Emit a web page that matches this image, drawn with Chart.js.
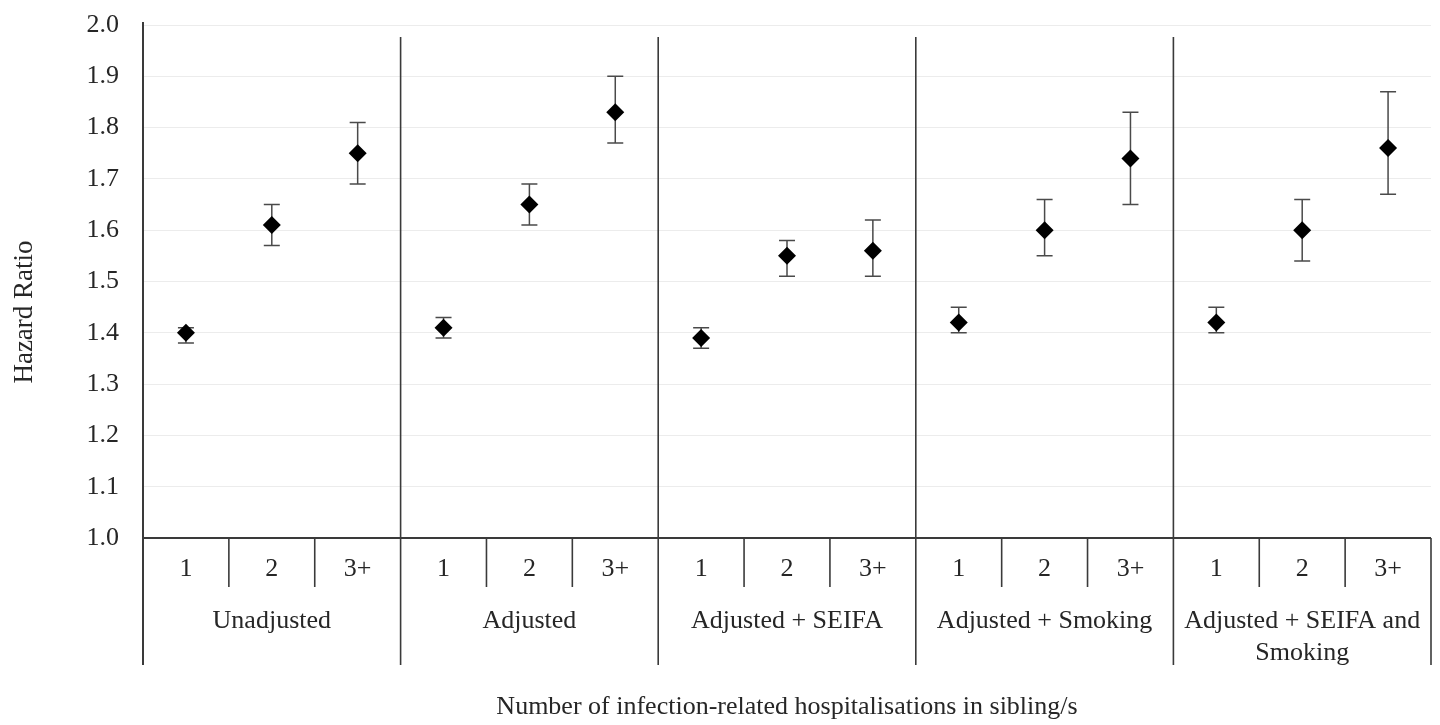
<!DOCTYPE html>
<html>
<head>
<meta charset="utf-8">
<script src="https://cdn.jsdelivr.net/npm/chart.js@4.4.1/dist/chart.umd.min.js"></script>
<style>
  body { margin: 0; background: #fff; }
  #wrap { width: 1440px; height: 725px; }
</style>
</head>
<body>
<div id="wrap"><canvas id="myChart"></canvas></div>
<script>
'use strict';
let groupNames = ['Unadjusted', 'Adjusted', 'Adjusted + SEIFA', 'Adjusted + Smoking', ['Adjusted + SEIFA and', 'Smoking']];
let subLabels = ['1', '2', '3+'];
let hazardRatio = [1.40, 1.61, 1.75, 1.41, 1.65, 1.83, 1.39, 1.55, 1.56, 1.42, 1.60, 1.74, 1.42, 1.60, 1.76];
let lowerCI = [1.38, 1.57, 1.69, 1.39, 1.61, 1.77, 1.37, 1.51, 1.51, 1.40, 1.55, 1.65, 1.40, 1.54, 1.67];
let upperCI = [1.41, 1.65, 1.81, 1.43, 1.69, 1.90, 1.41, 1.58, 1.62, 1.45, 1.66, 1.83, 1.45, 1.66, 1.87];
let yTicks = [1.0, 1.1, 1.2, 1.3, 1.4, 1.5, 1.6, 1.7, 1.8, 1.9, 2.0];

let labels = [];
for (let g = 0; g < groupNames.length; g++) {
  for (let s = 0; s < subLabels.length; s++) {
    labels.push(subLabels[s]);
  }
}

const fontFamily = '"Liberation Serif", "Times New Roman", serif';
const textColor = '#262626';

// error bars and the table-like category axis
const extras = {
  id: 'extras',
  beforeDatasetsDraw(chart) {
    const ctx = chart.ctx;
    const x = chart.scales.x;
    const y = chart.scales.y;
    ctx.save();
    ctx.strokeStyle = '#4a4a4a';
    ctx.lineWidth = 1.5;
    for (let i = 0; i < hazardRatio.length; i++) {
      const px = x.getPixelForValue(i);
      const top = y.getPixelForValue(upperCI[i]);
      const bot = y.getPixelForValue(lowerCI[i]);
      ctx.beginPath();
      ctx.moveTo(px, top); ctx.lineTo(px, bot);
      ctx.moveTo(px - 8, top); ctx.lineTo(px + 8, top);
      ctx.moveTo(px - 8, bot); ctx.lineTo(px + 8, bot);
      ctx.stroke();
    }
    ctx.restore();
  },
  afterDraw(chart) {
    const ctx = chart.ctx;
    const x = chart.scales.x;
    const y = chart.scales.y;
    const area = chart.chartArea;
    const base = y.getPixelForValue(1.0);
    const lineEnd = 665;
    const n = subLabels.length;
    ctx.save();
    ctx.strokeStyle = '#3a3a3a';
    ctx.lineWidth = 2;

    // left axis
    ctx.beginPath();
    ctx.moveTo(area.left, 22); ctx.lineTo(area.left, lineEnd);
    // base line
    ctx.moveTo(area.left, base); ctx.lineTo(area.right, base);
    ctx.stroke();

    ctx.lineWidth = 1.6;
    for (let i = 1; i < labels.length; i++) {
      const bx = (x.getPixelForValue(i - 1) + x.getPixelForValue(i)) / 2;
      ctx.beginPath();
      if (i % n === 0) {
        ctx.moveTo(bx, area.top + 12); ctx.lineTo(bx, lineEnd);
      } else {
        ctx.moveTo(bx, base); ctx.lineTo(bx, 587);
      }
      ctx.stroke();
    }
    ctx.beginPath();
    ctx.moveTo(area.right, base); ctx.lineTo(area.right, lineEnd);
    ctx.stroke();

    // group names
    ctx.fillStyle = textColor;
    ctx.font = '26px ' + fontFamily;
    ctx.textAlign = 'center';
    ctx.textBaseline = 'middle';
    for (let g = 0; g < groupNames.length; g++) {
      const cx = x.getPixelForValue(g * n + 1);
      const lines = Array.isArray(groupNames[g]) ? groupNames[g] : [groupNames[g]];
      for (let k = 0; k < lines.length; k++) {
        ctx.fillText(lines[k], cx, 621 + k * 32);
      }
    }

    // y axis title
    ctx.font = '27px ' + fontFamily;
    ctx.translate(25, 312);
    ctx.rotate(-Math.PI / 2);
    ctx.fillText('Hazard Ratio', 0, 0);
    ctx.restore();
  }
};

let ctx = document.getElementById('myChart').getContext('2d');
let chart = new Chart(ctx, {
  type: 'line',
  data: {
    labels: labels,
    datasets: [
      {
        label: 'Hazard Ratio',
        data: hazardRatio,
        showLine: false,
        pointStyle: 'rectRot',
        pointRadius: 9,
        pointHoverRadius: 9,
        pointBorderWidth: 0,
        backgroundColor: '#000',
        borderColor: '#000'
      }
    ]
  },
  options: {
    responsive: true,
    maintainAspectRatio: false,
    animation: false,
    layout: { padding: { top: 25, right: 9, left: 0, bottom: 0 } },
    plugins: {
      legend: { display: false },
      tooltip: { enabled: false }
    },
    scales: {
      x: {
        type: 'category',
        offset: true,
        grid: { display: false, drawTicks: false },
        border: { display: false },
        ticks: {
          color: textColor,
          padding: 16,
          maxRotation: 0,
          autoSkip: false,
          font: { family: fontFamily, size: 26 }
        },
        title: {
          display: true,
          text: 'Number of infection-related hospitalisations in sibling/s',
          color: textColor,
          padding: { top: 0, bottom: 2 },
          font: { family: fontFamily, size: 26 }
        },
        afterFit(scale) { scale.height = 187; }
      },
      y: {
        min: 1.0,
        max: 2.0,
        grid: { color: '#ececec', lineWidth: 1, drawTicks: false },
        border: { display: false },
        afterBuildTicks(scale) {
          scale.ticks = yTicks.map(v => ({ value: v }));
        },
        ticks: {
          color: textColor,
          padding: 24,
          font: { family: fontFamily, size: 26 },
          callback: v => Number(v).toFixed(1)
        },
        afterFit(scale) {
          scale.width = 143;
          scale.paddingTop = 0;
          scale.paddingBottom = 0;
        }
      }
    }
  },
  plugins: [extras]
});
</script>
</body>
</html>
